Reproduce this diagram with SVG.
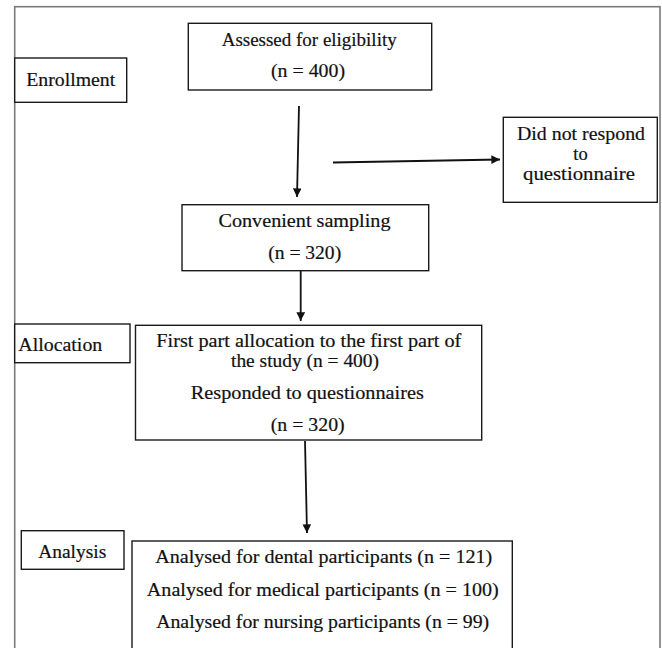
<svg xmlns="http://www.w3.org/2000/svg" width="662" height="648" viewBox="0 0 662 648">
<style>
  .box { fill: #ffffff; stroke: #1a1a1a; stroke-width: 1.4; }
  .frame { fill: none; stroke: #7a7a7a; stroke-width: 1.6; }
  .t { font-family: "Liberation Serif", "Times New Roman", serif; font-size: 19.5px; fill: #111111; stroke: #111111; stroke-width: 0.2; text-anchor: middle; }
  .tl { text-anchor: start; }
  .sm { font-size: 18.5px; }
  .conn { stroke: #111111; stroke-width: 1.8; fill: none; marker-end: url(#arr); }
</style>
<defs>
  <marker id="arr" viewBox="0 0 10 10" refX="10" refY="5" markerWidth="4.8" markerHeight="4.8" markerUnits="strokeWidth" orient="auto">
    <path d="M0,0 L10,5 L0,10 Z" fill="#111111"/>
  </marker>
</defs>
<rect width="662" height="648" fill="#ffffff"/>
<rect class="frame" x="14.7" y="6.7" width="645.3" height="660"/>

<g id="connectors">
  <line class="conn" x1="299" y1="106" x2="297" y2="197"/>
  <line class="conn" x1="333" y1="162.5" x2="500" y2="159.5"/>
  <line class="conn" x1="300.7" y1="270" x2="300.7" y2="321"/>
  <line class="conn" x1="305" y1="441" x2="307" y2="533"/>
</g>

<g id="enrollment">
  <rect class="box" x="14.7" y="58" width="112" height="44.3"/>
  <text class="t" x="70.7" y="86" textLength="89" lengthAdjust="spacingAndGlyphs">Enrollment</text>
</g>

<g id="assessed">
  <rect class="box" x="188.3" y="23.3" width="243.4" height="66.7"/>
  <text class="t" x="309.2" y="45.7" textLength="175" lengthAdjust="spacingAndGlyphs">Assessed for eligibility</text>
  <text class="t" x="308" y="77.3" textLength="74" lengthAdjust="spacingAndGlyphs">(n = 400)</text>
</g>

<g id="no-response">
  <rect class="box" x="503.3" y="117.3" width="154" height="85"/>
  <text class="t sm" x="581" y="140" textLength="128" lengthAdjust="spacingAndGlyphs">Did not respond</text>
  <text class="t sm" x="580.5" y="160">to</text>
  <text class="t sm" x="579" y="180" textLength="112" lengthAdjust="spacingAndGlyphs">questionnaire</text>
</g>

<g id="convenient">
  <rect class="box" x="182" y="204.7" width="246.7" height="66"/>
  <text class="t" x="304.5" y="227.3" textLength="172" lengthAdjust="spacingAndGlyphs">Convenient sampling</text>
  <text class="t" x="304.7" y="259" textLength="73" lengthAdjust="spacingAndGlyphs">(n = 320)</text>
</g>

<g id="allocation">
  <rect class="box" x="14.7" y="324" width="115.3" height="38.7"/>
  <text class="t tl" x="18.3" y="350.7" textLength="84" lengthAdjust="spacingAndGlyphs">Allocation</text>
</g>

<g id="first-part">
  <rect class="box" x="135.5" y="325.3" width="346.2" height="114.7"/>
  <text class="t sm" x="308.8" y="347.2" textLength="305" lengthAdjust="spacingAndGlyphs">First part allocation to the first part of</text>
  <text class="t sm" x="305" y="367" textLength="148" lengthAdjust="spacingAndGlyphs">the study (n = 400)</text>
  <text class="t" x="307.3" y="399.3" textLength="233" lengthAdjust="spacingAndGlyphs">Responded to questionnaires</text>
  <text class="t" x="307.7" y="431" textLength="74" lengthAdjust="spacingAndGlyphs">(n = 320)</text>
</g>

<g id="analysis">
  <rect class="box" x="21.3" y="530.7" width="102.7" height="38.6"/>
  <text class="t" x="72.2" y="557.7" textLength="68" lengthAdjust="spacingAndGlyphs">Analysis</text>
</g>

<g id="analysed">
  <rect class="box" x="132" y="541" width="380.3" height="130"/>
  <text class="t" x="323.7" y="563.3" textLength="337" lengthAdjust="spacingAndGlyphs">Analysed for dental participants (n = 121)</text>
  <text class="t" x="322.8" y="595.7" textLength="352" lengthAdjust="spacingAndGlyphs">Analysed for medical participants (n = 100)</text>
  <text class="t" x="322.7" y="627.7" textLength="333" lengthAdjust="spacingAndGlyphs">Analysed for nursing participants (n = 99)</text>
</g>
</svg>
